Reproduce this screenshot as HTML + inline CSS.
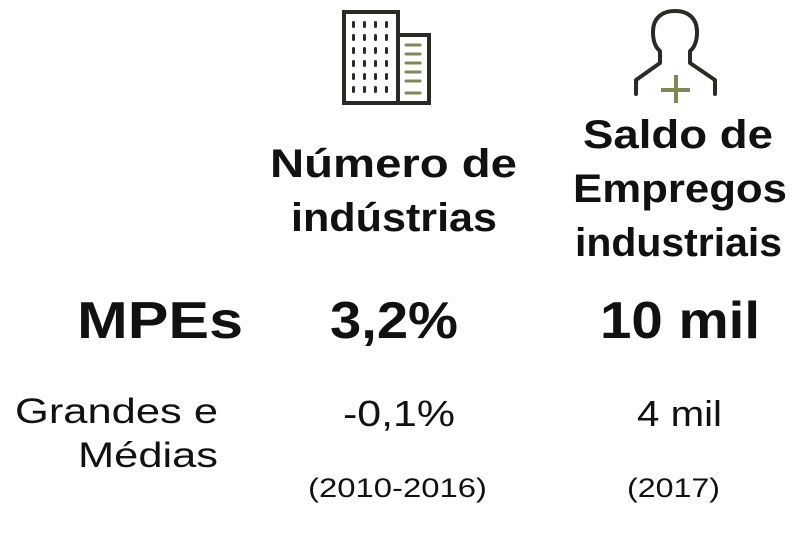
<!DOCTYPE html>
<html><head><meta charset="utf-8"><style>
html,body{margin:0;padding:0;background:#fff;}
svg{display:block}
text{font-family:"Liberation Sans","DejaVu Sans",sans-serif;fill:#111;}
.b{font-weight:bold}
</style></head><body>
<svg width="800" height="533" viewBox="0 0 800 533" xmlns="http://www.w3.org/2000/svg">
<g fill="none" stroke="#2b2b25" stroke-width="4">
<rect x="344" y="12" width="54" height="91"/>
<rect x="398" y="35" width="31" height="68"/>
</g>
<g fill="#2b2b25">
<g id="row">
<rect x="352" y="21" width="3" height="7" rx="1.5"/><rect x="363" y="21" width="3" height="7" rx="1.5"/><rect x="374" y="21" width="3" height="7" rx="1.5"/><rect x="385" y="21" width="3" height="7" rx="1.5"/>
</g>
<use href="#row" y="13"/><use href="#row" y="26"/><use href="#row" y="39"/><use href="#row" y="52"/><use href="#row" y="65"/>
</g>
<g stroke="#7d8a55" stroke-width="3" stroke-linecap="round">
<line x1="406" y1="45" x2="420" y2="45"/><line x1="406" y1="54" x2="420" y2="54"/><line x1="406" y1="63" x2="420" y2="63"/><line x1="406" y1="72" x2="420" y2="72"/><line x1="406" y1="81" x2="420" y2="81"/><line x1="406" y1="93" x2="420" y2="93"/>
</g>
<path d="M636 94 V80 L660 63 V51 C655 47 653 40 653 32 C653 18 662 11 675 11 C688 11 697 18 697 32 C697 40 695 47 690 51 V63 L715 80 V94" fill="none" stroke="#2b2b25" stroke-width="4" stroke-linejoin="round" stroke-linecap="round"/>
<g stroke="#7d8a55" stroke-width="4"><line x1="676" y1="75" x2="676" y2="103"/><line x1="661" y1="90" x2="690" y2="90"/></g>
<g font-size="40" lengthAdjust="spacingAndGlyphs">
<text x="270" y="177" class="b" textLength="247" lengthAdjust="spacingAndGlyphs">Número de</text>
<text x="291" y="231" class="b" textLength="206" lengthAdjust="spacingAndGlyphs">indústrias</text>
<text x="583" y="148" class="b" textLength="190" lengthAdjust="spacingAndGlyphs">Saldo de</text>
<text x="573" y="202" class="b" textLength="214" lengthAdjust="spacingAndGlyphs">Empregos</text>
<text x="575" y="256" class="b" textLength="207" lengthAdjust="spacingAndGlyphs">industriais</text>
</g>
<text x="77" y="338" class="b" font-size="52" textLength="166" lengthAdjust="spacingAndGlyphs">MPEs</text>
<text x="330" y="338" class="b" font-size="52" textLength="128" lengthAdjust="spacingAndGlyphs">3,2%</text>
<text x="600" y="338" class="b" font-size="52" textLength="160" lengthAdjust="spacingAndGlyphs">10 mil</text>
<text x="15" y="423" font-size="35" textLength="203" lengthAdjust="spacingAndGlyphs">Grandes e</text>
<text x="78" y="467" font-size="35" textLength="140" lengthAdjust="spacingAndGlyphs">Médias</text>
<text x="343" y="426" font-size="36" textLength="112" lengthAdjust="spacingAndGlyphs">-0,1%</text>
<text x="637" y="426" font-size="36" textLength="85" lengthAdjust="spacingAndGlyphs">4 mil</text>
<text x="308" y="497" font-size="27" textLength="179" lengthAdjust="spacingAndGlyphs">(2010-2016)</text>
<text x="627" y="497" font-size="27" textLength="93" lengthAdjust="spacingAndGlyphs">(2017)</text>
</svg>
</body></html>
